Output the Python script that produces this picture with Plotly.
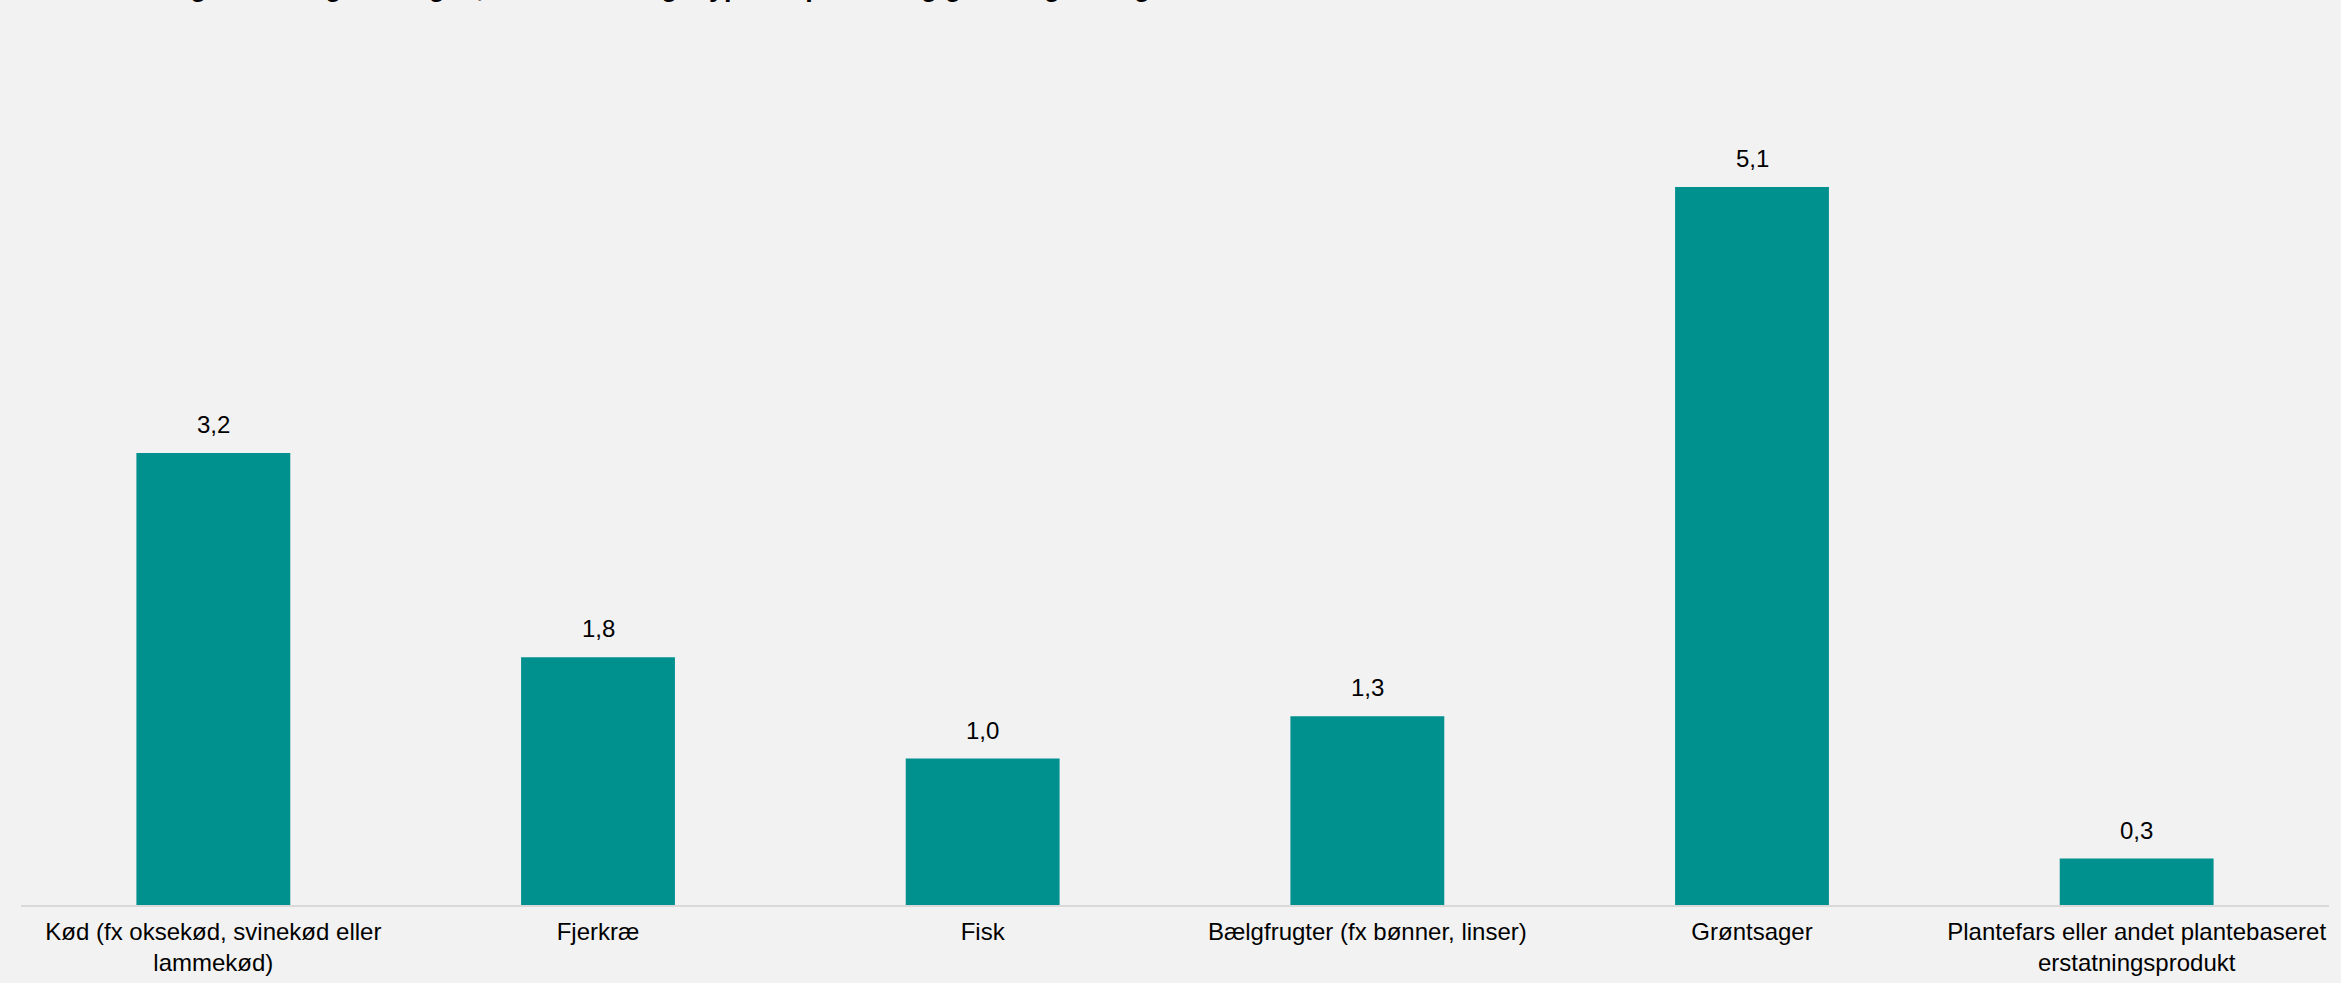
import plotly.graph_objects as go

categories = [
    "Kød (fx oksekød, svinekød eller<br>lammekød)",
    "Fjerkræ",
    "Fisk",
    "Bælgfrugter (fx bønner, linser)",
    "Grøntsager",
    "Plantefars eller andet plantebaseret<br>erstatningsprodukt",
]
values = [3.21, 1.76, 1.04, 1.34, 5.10, 0.33]
value_labels = [f"{v:.1f}".replace(".", ",") for v in values]

title_text = "Gennemsnitligt antal dage om ugen, hvor forskellige typer af protein og grøntsager indgår i aftensmaden"

BAR = "#00918F"
BG = "#F2F2F2"
FONT = "Liberation Sans, Arial, sans-serif"

fig = go.Figure()
fig.add_trace(go.Bar(
    x=categories, y=values, marker=dict(color=BAR, line=dict(width=0)),
    width=0.4, hoverinfo="skip",
))

for c, v, t in zip(categories, values, value_labels):
    fig.add_annotation(x=c, y=v, text=t, showarrow=False, yanchor="bottom",
                       yshift=13, font=dict(size=24, color="#000000", family=FONT))

fig.add_annotation(xref="paper", yref="paper", x=0, y=1, xanchor="left", yanchor="bottom",
                   xshift=-4, yshift=76, text="<b>" + title_text + "</b>", showarrow=False,
                   font=dict(size=27, color="#000000", family=FONT))

fig.update_layout(
    width=2341, height=983,
    margin=dict(l=21, r=12, t=80, b=78, autoexpand=False),
    paper_bgcolor=BG, plot_bgcolor=BG,
    showlegend=False,
    bargap=0.6,
    font=dict(family=FONT, size=24, color="#000000"),
)
fig.update_xaxes(showline=True, linecolor="#D9D9D9", linewidth=2, ticks="",
                 tickfont=dict(size=24, color="#000000", family=FONT), showgrid=False,
                 ticklabelstandoff=4, automargin=False)
fig.update_yaxes(range=[0, 5.86], visible=False, showgrid=False, zeroline=False,
                 automargin=False)

fig.write_html("out.html")
